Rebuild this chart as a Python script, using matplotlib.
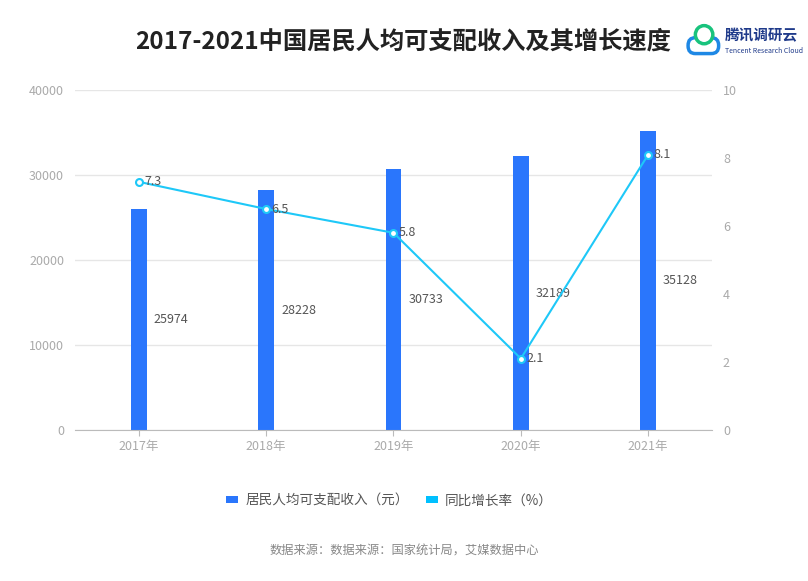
import matplotlib
matplotlib.use('Agg')
import matplotlib.pyplot as plt
from matplotlib.patches import Rectangle, Circle, FancyBboxPatch

plt.rcParams['font.family'] = ['Noto Sans CJK SC', 'DejaVu Sans']

# 数据
years = ['2017年', '2018年', '2019年', '2020年', '2021年']
income = [25974, 28228, 30733, 32189, 35128]
growth = [7.3, 6.5, 5.8, 2.1, 8.1]

bar_color = '#2A76FC'
line_color = '#1EC8F8'
gray = '#AAAAAA'

fig = plt.figure(figsize=(8.08, 5.81), dpi=100)
ax = fig.add_axes([0.093, 0.26, 0.788, 0.585])
ax2 = ax.twinx()

x = list(range(len(years)))
ax.bar(x, income, width=0.125, color=bar_color, zorder=2)
for i, v in enumerate(income):
    ax.annotate(str(v), (i + 0.0625, v / 2), xytext=(5, 0), textcoords='offset points',
                ha='left', va='center', fontsize=9, color='#555555')

ax.set_xlim(-0.5, 4.5)
ax.set_ylim(0, 40000)
ax.set_yticks([0, 10000, 20000, 30000, 40000])
ax.set_xticks(x)
ax.set_xticklabels(years)
ax.grid(axis='y', color='#E6E6E6', linewidth=1, zorder=0)
ax.set_axisbelow(True)
for s in ['top', 'right', 'left']:
    ax.spines[s].set_visible(False)
ax.spines['bottom'].set_color('#BBBBBB')
ax.tick_params(axis='y', length=0, colors=gray, labelsize=9, pad=8)
ax.tick_params(axis='x', length=4, color='#BBBBBB', colors=gray, labelsize=9)
ax.tick_params(axis='x', labelcolor=gray)

ax2.plot(x, growth, color=line_color, linewidth=1.5, marker='o', markersize=5,
         markerfacecolor='white', markeredgecolor=line_color, markeredgewidth=1.5, zorder=3)
for i, v in enumerate(growth):
    ax2.annotate(str(v), (i, v), xytext=(4, 0), textcoords='offset points',
                 ha='left', va='center', fontsize=9, color='#555555')
ax2.set_ylim(0, 10)
ax2.set_yticks([0, 2, 4, 6, 8, 10])
for s in ['top', 'right', 'left', 'bottom']:
    ax2.spines[s].set_visible(False)
ax2.tick_params(axis='y', length=0, colors=gray, labelsize=9, pad=8)

# 标题
fig.text(0.499, 0.928, '2017-2021中国居民人均可支配收入及其增长速度', ha='center', va='center',
         fontsize=17.5, fontweight='bold', color='#222222')

# 图标
fig.text(0.897, 0.939, '腾讯调研云', ha='left', va='center', fontsize=10.5,
         fontweight='bold', color='#1F3A8A', style='italic')
fig.text(0.897, 0.913, 'Tencent Research Cloud', ha='left', va='center', fontsize=5,
         color='#1F3A8A', style='italic')
logo = fig.add_axes([0.848, 0.9, 0.045, 0.065])
logo.set_xlim(0, 1)
logo.set_ylim(0, 1)
logo.axis('off')
logo.add_patch(FancyBboxPatch((0.08, 0.12), 0.84, 0.42, boxstyle='round,pad=0,rounding_size=0.2',
                              facecolor='white', edgecolor='#1E88E5', linewidth=2.5))
logo.add_patch(Circle((0.52, 0.62), 0.24, facecolor='white', edgecolor='#19C37D', linewidth=2.5))

# 图例
lx = 0.28
fig.patches.append(Rectangle((lx, 0.134), 0.015, 0.012, transform=fig.transFigure,
                             facecolor=bar_color, edgecolor='none'))
fig.text(lx + 0.024, 0.139, '居民人均可支配收入（元）', ha='left', va='center', fontsize=9.8, color='#555555')
lx2 = 0.527
fig.patches.append(Rectangle((lx2, 0.134), 0.015, 0.012, transform=fig.transFigure,
                             facecolor='#00C0FF', edgecolor='none'))
fig.text(lx2 + 0.024, 0.139, '同比增长率（%）', ha='left', va='center', fontsize=9.8, color='#555555')

# 数据来源
fig.text(0.5, 0.052, '数据来源：数据来源：国家统计局，艾媒数据中心', ha='center', va='center',
         fontsize=8.8, color='#888888')

fig.savefig('out.png', dpi=100)
